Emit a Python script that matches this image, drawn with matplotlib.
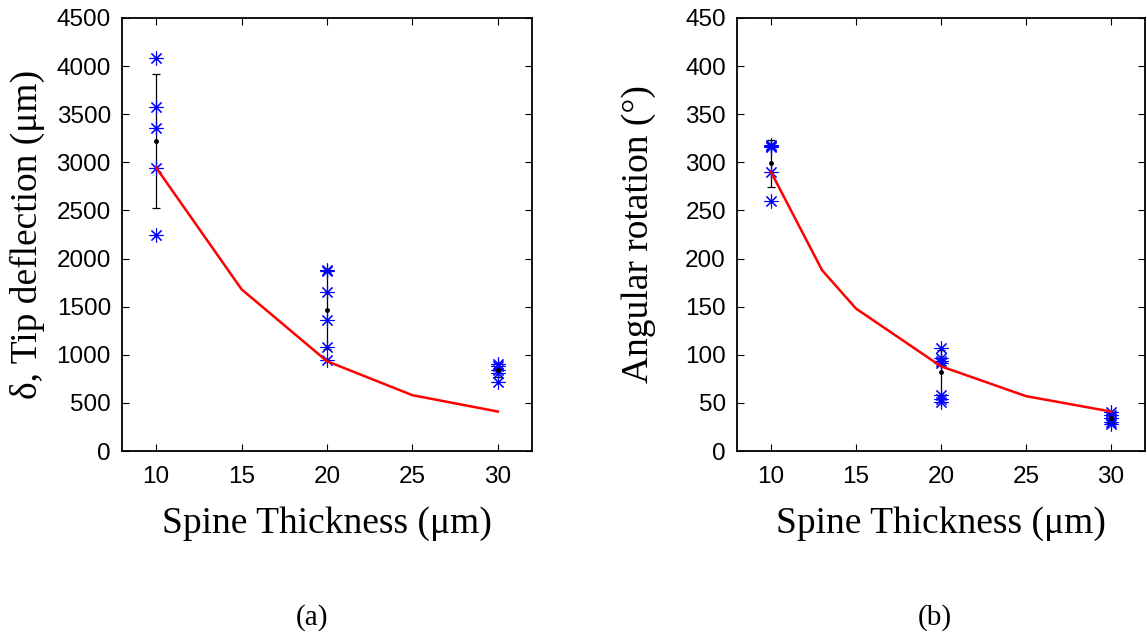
import matplotlib
matplotlib.use("Agg")
import matplotlib.pyplot as plt

# panel (a): tip deflection
thick_a = [10, 20, 30]
stars_a = [
    [4080, 3570, 3360, 2945, 2240],
    [1880, 1875, 1653, 1360, 1082, 944],
    [902, 880, 843, 809, 719],
]
mean_a = [3225, 1463, 840]
std_a = [695, 402, 72]
model_x_a = [10, 15, 20, 25, 30]
model_y_a = [2945, 1680, 933, 580, 410]

# panel (b): angular rotation
thick_b = [10, 20, 30]
stars_b = [
    [318, 317, 316, 290, 260],
    [107.5, 97, 93.6, 91, 58, 54, 51],
    [41, 37.3, 34.5, 30.4, 28],
]
mean_b = [299, 81.6, 34.2]
std_b = [24.5, 23, 5]
model_x_b = [10, 13, 15, 20, 25, 30]
model_y_b = [290, 188, 148, 88, 57, 41]

SANS = 'Liberation Sans'
SERIF = 'Liberation Serif'
star = (8, 2, 0)


def draw_panel(ax, xs, stars, mean, std, mx, my, ymax, ystep, ylabel, ypad):
    ax.errorbar(xs, mean, yerr=std, fmt='none', ecolor='black', elinewidth=0.9,
                capsize=3, capthick=0.9, zorder=2)
    for x, vals in zip(xs, stars):
        ax.plot([x] * len(vals), vals, linestyle='none', marker=star, markersize=10,
                markeredgewidth=0.8, color='blue', zorder=3)
    ax.plot(xs, mean, 'o', color='black', markersize=2.5, zorder=4)
    ax.plot(mx, my, color='red', linewidth=1.8, zorder=5)

    ax.set_xlim(8, 32)
    ax.set_ylim(0, ymax)
    ax.set_xticks([10, 15, 20, 25, 30])
    ax.set_yticks(range(0, ymax + 1, ystep))
    ax.tick_params(direction='in', top=True, right=True, length=5, width=0.8,
                   labelsize=17.5)
    ax.tick_params(axis='x', pad=11)
    ax.tick_params(axis='y', pad=8)
    for lab in ax.get_xticklabels() + ax.get_yticklabels():
        lab.set_fontfamily(SANS)
    for s in ax.spines.values():
        s.set_linewidth(1.3)
    ax.set_xlabel('Spine Thickness (μm)', fontsize=27, family=SERIF, labelpad=13)
    ax.set_ylabel(ylabel, fontsize=27, family=SERIF, labelpad=ypad)


fig = plt.figure(figsize=(11.47, 6.34), dpi=100)
ax1 = fig.add_axes([122 / 1147, 183 / 634, 410 / 1147, 433 / 634])
ax2 = fig.add_axes([737 / 1147, 183 / 634, 408 / 1147, 433 / 634])

draw_panel(ax1, thick_a, stars_a, mean_a, std_a, model_x_a, model_y_a,
           4500, 500, 'δ, Tip deflection (μm)', 8)
draw_panel(ax2, thick_b, stars_b, mean_b, std_b, model_x_b, model_y_b,
           450, 50, 'Angular rotation (°)', 21)

fig.text(312 / 1147, 1 - 618 / 634, '(a)', ha='center', va='center',
         fontsize=21, family=SERIF)
fig.text(935 / 1147, 1 - 618 / 634, '(b)', ha='center', va='center',
         fontsize=21, family=SERIF)

fig.savefig('out.png', dpi=100)
